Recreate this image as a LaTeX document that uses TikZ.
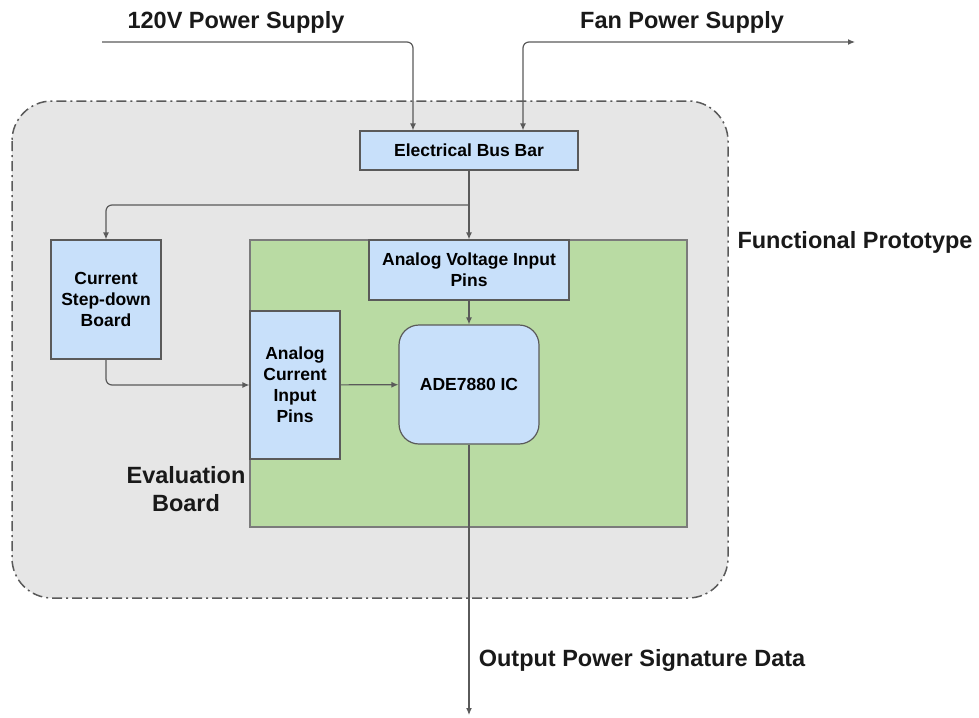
\documentclass[tikz,border=0pt]{standalone}
\usepackage{fontspec}
\setmainfont{Liberation Sans}
\usetikzlibrary{arrows.meta}

\definecolor{protogray}{HTML}{E6E6E6}
\definecolor{boardgreen}{HTML}{B9DBA3}
\definecolor{pinblue}{HTML}{C8E0FA}
\definecolor{edgegray}{HTML}{5A5A5A}

\begin{document}
\begin{tikzpicture}[x=1pt,y=-1pt,
  block/.style={draw=edgegray,line width=1.2pt,fill=pinblue,inner sep=0pt,
    align=center,font=\fontsize{17.5}{21}\selectfont\bfseries},
  biglabel/.style={font=\fontsize{23.5}{28}\selectfont\bfseries,text=black!90,align=center},
  wire/.style={draw=edgegray,line width=1.2pt,-{Latex[length=7pt,width=6pt]},rounded corners=6pt}]

\useasboundingbox (0,0) rectangle (979,717);

% Define coordinates
\coordinate (supin)  at (102,42);
\coordinate (fanout) at (855,42);
\coordinate (split)  at (469,205);
\coordinate (dataout) at (469,715);

% Functional prototype and evaluation board
\draw[draw=edgegray,line width=1.5pt,fill=protogray,rounded corners=40pt,
  dash pattern=on 10pt off 4pt on 2pt off 4pt] (12,101) rectangle (728,598);
\draw[draw=edgegray!80,line width=1.2pt,fill=boardgreen] (250,240) rectangle (687,527);

% Blocks
\node[block,minimum width=218pt,minimum height=39pt] (bus) at (469,150.5) {Electrical Bus Bar};
\node[block,minimum width=200pt,minimum height=60pt] (volt) at (469,270) {Analog Voltage Input\\Pins};
\node[block,minimum width=140pt,minimum height=119pt,rounded corners=20pt] (ade) at (469,384.5) {ADE7880 IC};
\node[block,minimum width=90pt,minimum height=148pt] (cur) at (295,385) {Analog\\Current\\Input\\Pins};
\node[block,minimum width=110pt,minimum height=119pt] (step) at (106,299.5) {Current\\Step-down\\Board};

% Labels
\node[biglabel] (suplbl) at (236,22) {120V Power Supply};
\node[biglabel] (fanlbl) at (682,22) {Fan Power Supply};
\node[biglabel] (protolbl) at (855,242) {Functional Prototype};
\node[biglabel,font=\fontsize{23.5}{28}\selectfont\bfseries] (evallbl) at (186,489) {Evaluation\\Board};
\node[biglabel] (outlbl) at (642,660) {Output Power Signature Data};

% Connections
\draw[wire] (supin) -| ([xshift=-56pt]bus.north);
\draw[wire,{Latex[length=7pt,width=6pt]}-{Latex[length=7pt,width=6pt]}] ([xshift=54pt]bus.north) |- (fanout);
\draw[wire] (bus) -- (volt);
\draw[wire] (split) -| (step.north);
\draw[wire] (step.south) |- (cur.west);
\draw[wire] (cur) -- (ade);
\draw[wire] (volt) -- (ade);
\draw[wire] (ade.south) -- (dataout);

\end{tikzpicture}
\end{document}
